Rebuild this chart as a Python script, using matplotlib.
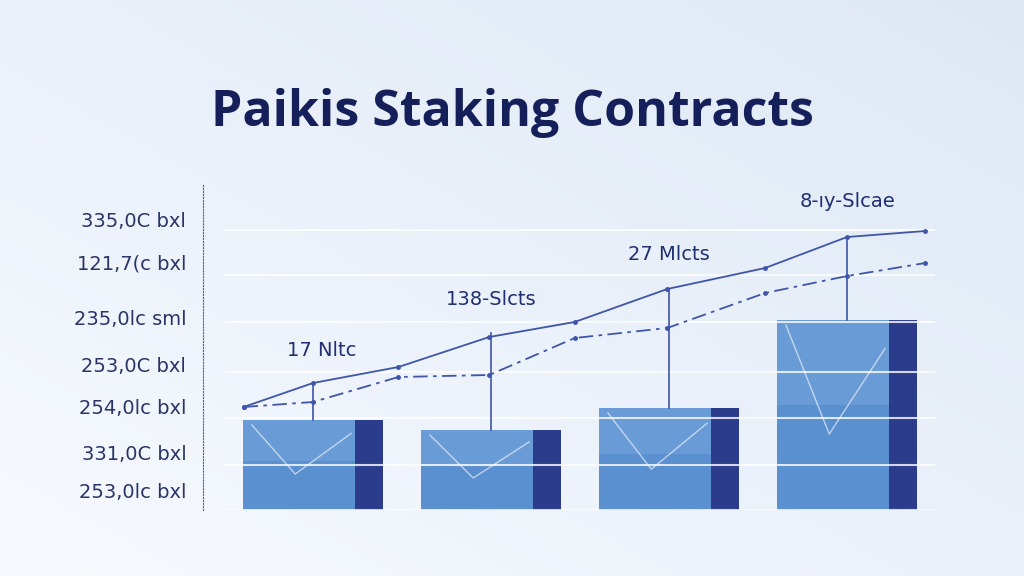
import numpy as np
import matplotlib.pyplot as plt
from matplotlib.patches import Rectangle

# ── Data ────────────────────────────────────────────────────────────────────
bar_pos = [0, 1, 2, 3]
bar_heights = [90, 80, 102, 190]
bar_labels = ["17 Nltc", "138-Slcts", "27 Mlcts", "8-ıy-Slcae"]

line_x = [-0.39, 0.0, 0.48, 0.99, 1.47, 1.99, 2.54, 3.0, 3.44]
line_a = [103, 127, 143, 173, 188, 221, 242, 273, 279]
line_b = [103, 108, 133, 135, 172, 182, 217, 234, 247]

grid_y = [0, 45, 92, 138, 188, 235, 280]
ytick_y = [20, 58, 103, 145, 192, 248, 290]
ytick_labels = ["253,0lc bxl", "331,0C bxl", "254,0lc bxl", "253,0C bxl",
                "235,0lc sml", "121,7(c bxl", "335,0C bxl"]

# ── Figure ──────────────────────────────────────────────────────────────────
W, H = 1024, 576
fig = plt.figure(figsize=(W / 100, H / 100), dpi=100)

bg = fig.add_axes([0, 0, 1, 1])
gx, gy = np.meshgrid(np.linspace(0, 1, 200), np.linspace(0, 1, 200))
g = 0.5 * gx + 0.5 * (1 - gy)
c0 = np.array([0.97, 0.98, 1.0])
c1 = np.array([0.87, 0.91, 0.96])
img = c0[None, None, :] * (1 - g[..., None]) + c1[None, None, :] * g[..., None]
bg.imshow(img, aspect='auto', extent=[0, 1, 0, 1], origin='upper')
bg.axis('off')

fig.text(0.5, 1 - 113 / H, "Paikis Staking Contracts", ha='center', va='center',
         fontsize=36, fontweight='bold', color='#15205a', family='Open Sans')

ax = fig.add_axes([203 / W, (H - 510) / H, (935 - 203) / W, (510 - 185) / H])
ax.set_xlim(-0.618, 3.494)
ax.set_ylim(0, 325)
ax.patch.set_alpha(0)
for s in ['top', 'right', 'bottom']:
    ax.spines[s].set_visible(False)
ax.spines['left'].set_linestyle(':')
ax.spines['left'].set_color('#4a5f9f')
ax.set_xticks([])
ax.set_yticks(ytick_y)
ax.set_yticklabels(ytick_labels, fontsize=14, color='#2a3566')
ax.tick_params(axis='y', length=0, pad=12)

bw = 0.787
dark_w = 0.16
for x, h in zip(bar_pos, bar_heights):
    ax.add_patch(Rectangle((x - bw / 2, 0), bw, h, facecolor='#5a8fd0', zorder=2))
    ax.add_patch(Rectangle((x - bw / 2, h * 0.55), bw - dark_w, h * 0.45,
                           facecolor='#79a7dc', alpha=0.5, zorder=2, lw=0))
    ax.add_patch(Rectangle((x + bw / 2 - dark_w, 0), dark_w, h,
                           facecolor='#2b3c8c', zorder=3))
    # faint diagonal strokes inside bars
    ax.plot([x - bw / 2 + 0.05, x - 0.1, x + bw / 2 - dark_w - 0.02],
            [h - 5, h * 0.4, h * 0.85], color='white', lw=1, alpha=0.6, zorder=3)

for y in grid_y:
    ax.axhline(y, color='white', lw=1.5, alpha=0.8, zorder=4, xmin=0.03)

ax.plot(line_x, line_a, color='#3f55a8', lw=1.3, marker='o', ms=2.5, zorder=5)
ax.annotate('', xy=(3.5, 279), xytext=(3.42, 279),
            arrowprops=dict(arrowstyle='->', color='#3f55a8', lw=1.3))
ax.plot(line_x, line_b, color='#3f55a8', lw=1.3, ls=(0, (8, 3, 2, 3)),
        marker='o', ms=2.5, zorder=5)

stem_top = [127, 177, 221, 273]
for x, top, h in zip(bar_pos, stem_top, bar_heights):
    ax.plot([x, x], [h, top], color='#3f55a8', lw=1.2, zorder=5)

label_y = [160, 210, 255, 308]
label_x = [0.05, 0.0, 0.0, 0.0]
for x, dx, y, t in zip(bar_pos, label_x, label_y, bar_labels):
    ax.text(x + dx, y, t, ha='center', va='center', fontsize=14, color='#1f2f6f')

fig.savefig('out.png', dpi=100)
